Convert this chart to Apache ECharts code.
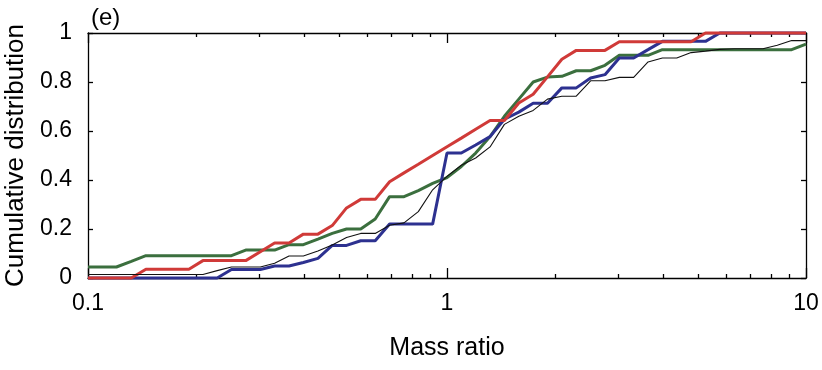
<!DOCTYPE html>
<html>
<head>
<meta charset="utf-8">
<script src="https://cdn.jsdelivr.net/npm/echarts@6/dist/echarts.min.js"></script>
<style>html,body{margin:0;padding:0;background:#fff}#c{width:822px;height:370px}</style>
</head>
<body>
<div id="c"></div>
<script>
// Mass ratio grid (log-spaced bins)
const massRatio = [0.1, 0.11, 0.12, 0.132, 0.145, 0.158, 0.174, 0.191, 0.209, 0.229,
  0.251, 0.275, 0.302, 0.331, 0.363, 0.398, 0.437, 0.479, 0.525, 0.575,
  0.631, 0.692, 0.759, 0.832, 0.912, 1.0, 1.096, 1.202, 1.318, 1.445,
  1.585, 1.738, 1.905, 2.089, 2.291, 2.512, 2.754, 3.02, 3.311, 3.631,
  3.981, 4.365, 4.786, 5.248, 5.754, 6.31, 6.918, 7.586, 8.318, 9.12, 10.0];

const redCdf = [0, 0, 0, 0, 0.036, 0.036, 0.036, 0.036, 0.071, 0.071,
  0.071, 0.071, 0.107, 0.143, 0.143, 0.179, 0.179, 0.214, 0.286, 0.321,
  0.321, 0.393, 0.429, 0.464, 0.5, 0.536, 0.571, 0.607, 0.643, 0.643,
  0.714, 0.75, 0.821, 0.893, 0.929, 0.929, 0.929, 0.964, 0.964, 0.964,
  0.964, 0.964, 0.964, 1, 1, 1, 1, 1, 1, 1, 1];

const greenCdf = [0.045, 0.045, 0.045, 0.068, 0.091, 0.091, 0.091, 0.091, 0.091, 0.091,
  0.091, 0.114, 0.114, 0.114, 0.136, 0.136, 0.159, 0.182, 0.2, 0.2,
  0.241, 0.332, 0.332, 0.357, 0.386, 0.41, 0.455, 0.51, 0.577, 0.66,
  0.73, 0.8, 0.82, 0.823, 0.846, 0.846, 0.868, 0.909, 0.909, 0.909,
  0.932, 0.932, 0.932, 0.932, 0.932, 0.932, 0.932, 0.932, 0.932, 0.932, 0.955];

const blueCdf = [0, 0, 0, 0, 0, 0, 0, 0, 0, 0,
  0.035, 0.035, 0.035, 0.049, 0.049, 0.063, 0.08, 0.133, 0.133, 0.152,
  0.152, 0.22, 0.22, 0.22, 0.22, 0.51, 0.51, 0.543, 0.577, 0.648,
  0.677, 0.713, 0.713, 0.776, 0.776, 0.816, 0.83, 0.898, 0.898, 0.932,
  0.966, 0.966, 0.966, 0.966, 1, 1, 1, 1, 1, 1, 1];

const blackCdf = [0.014, 0.014, 0.014, 0.014, 0.014, 0.014, 0.014, 0.014, 0.014, 0.03,
  0.045, 0.045, 0.045, 0.06, 0.09, 0.09, 0.11, 0.135, 0.165, 0.182,
  0.182, 0.215, 0.225, 0.271, 0.36, 0.415, 0.46, 0.49, 0.535, 0.627,
  0.66, 0.684, 0.73, 0.742, 0.742, 0.805, 0.805, 0.819, 0.819, 0.882,
  0.898, 0.898, 0.92, 0.926, 0.933, 0.936, 0.936, 0.936, 0.95, 0.969, 0.969];

const xMajorTicks = [0.1, 1, 10];
const xMinorTicks = [0.2, 0.3, 0.4, 0.5, 0.6, 0.7, 0.8, 0.9, 2, 3, 4, 5, 6, 7, 8, 9];
const yTicks = [0, 0.2, 0.4, 0.6, 0.8, 1];

const FONT = 'Liberation Sans, Arial, Helvetica, sans-serif';
const pair = ys => massRatio.map((x, i) => [x, ys[i]]);

const chart = echarts.init(document.getElementById('c'), null, {renderer: 'canvas'});

const baseX = {
  type: 'log', logBase: 10, min: 0.1, max: 10,
  splitLine: {show: false}, minorTick: {show: false}, minorSplitLine: {show: false}
};
const lineStyleAxis = {color: '#000', width: 1.3};

chart.setOption({
  animation: false,
  backgroundColor: '#fff',
  title: {
    text: '(e)', left: 86, top: 1,
    textStyle: {fontFamily: FONT, fontSize: 24, fontWeight: 'normal', color: '#000'}
  },
  grid: {left: 88, right: 16, top: 33, bottom: 92, containLabel: false, outerBoundsMode: 'none'},
  xAxis: [
    Object.assign({}, baseX, {
      position: 'bottom',
      name: 'Mass ratio', nameLocation: 'middle', nameGap: 58,
      nameTextStyle: {fontFamily: FONT, fontSize: 25, color: '#000'},
      axisLine: {show: true, lineStyle: lineStyleAxis},
      axisTick: {show: true, inside: true, length: 10, customValues: xMajorTicks, lineStyle: lineStyleAxis},
      axisLabel: {show: true, customValues: xMajorTicks, margin: 14, fontFamily: FONT, fontSize: 23, color: '#000',
        formatter: v => String(v)}
    }),
    Object.assign({}, baseX, {
      position: 'bottom',
      axisLine: {show: false},
      axisTick: {show: true, inside: true, length: 4, customValues: xMinorTicks, lineStyle: lineStyleAxis},
      axisLabel: {show: false}
    }),
    Object.assign({}, baseX, {
      position: 'top',
      axisLine: {show: true, lineStyle: lineStyleAxis},
      axisTick: {show: true, inside: true, length: 10, customValues: xMajorTicks, lineStyle: lineStyleAxis},
      axisLabel: {show: false}
    }),
    Object.assign({}, baseX, {
      position: 'top',
      axisLine: {show: false},
      axisTick: {show: true, inside: true, length: 4, customValues: xMinorTicks, lineStyle: lineStyleAxis},
      axisLabel: {show: false}
    })
  ],
  yAxis: [
    {
      type: 'value', min: 0, max: 1, interval: 0.2, position: 'left',
      name: 'Cumulative distribution', nameLocation: 'middle', nameGap: 59,
      nameTextStyle: {fontFamily: FONT, fontSize: 26, color: '#000'},
      axisLine: {show: true, lineStyle: lineStyleAxis},
      axisTick: {show: true, inside: true, length: 5, lineStyle: lineStyleAxis},
      axisLabel: {show: true, margin: 16, fontFamily: FONT, fontSize: 23, color: '#000',
        customValues: yTicks, formatter: v => String(Math.round(v * 10) / 10)},
      splitLine: {show: false}
    },
    {
      type: 'value', min: 0, max: 1, interval: 0.2, position: 'right',
      axisLine: {show: true, lineStyle: lineStyleAxis},
      axisTick: {show: true, inside: true, length: 5, lineStyle: lineStyleAxis},
      axisLabel: {show: false},
      splitLine: {show: false}
    }
  ],
  series: [
    {name: 'green', type: 'line', data: pair(greenCdf), showSymbol: false, clip: false,
      lineStyle: {color: '#3b6f3e', width: 3}, z: 2},
    {name: 'blue', type: 'line', data: pair(blueCdf), showSymbol: false, clip: false,
      lineStyle: {color: '#2d3190', width: 3}, z: 3},
    {name: 'red', type: 'line', data: pair(redCdf), showSymbol: false, clip: false,
      lineStyle: {color: '#d03a38', width: 3}, z: 4},
    {name: 'black', type: 'line', data: pair(blackCdf), showSymbol: false, clip: false,
      lineStyle: {color: '#111', width: 1.1}, z: 5}
  ]
});
</script>
</body>
</html>
